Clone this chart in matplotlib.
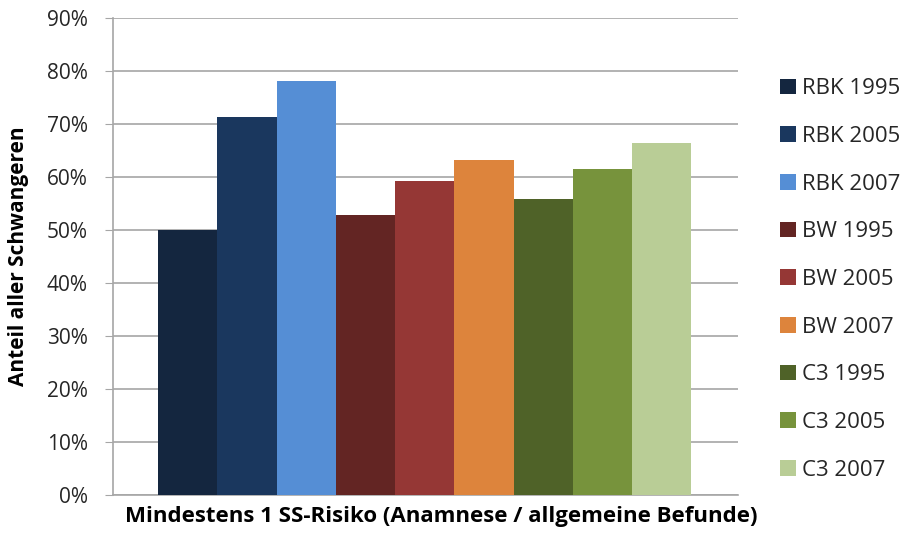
import matplotlib
matplotlib.use("Agg")
import matplotlib.pyplot as plt
from matplotlib.patches import Patch
from matplotlib.ticker import PercentFormatter

series = ["RBK 1995", "RBK 2005", "RBK 2007",
          "BW 1995", "BW 2005", "BW 2007",
          "C3 1995", "C3 2005", "C3 2007"]
values = [50.0, 71.3, 78.1, 52.8, 59.2, 63.3, 55.8, 61.5, 66.5]
colors = ["#14263F", "#1A375E", "#558ED5",
          "#632523", "#953735", "#DD843C",
          "#4F6228", "#77933C", "#B9CD96"]
category = "Mindestens 1 SS-Risiko (Anamnese / allgemeine Befunde)"

plt.rcParams["font.family"] = ["Open Sans", "DejaVu Sans"]

fig = plt.figure(figsize=(9.04, 5.34), dpi=100)
ax = fig.add_axes([0.125, 0.073, 0.691, 0.893])

for i, (v, c) in enumerate(zip(values, colors)):
    ax.bar(i, v, width=1.0, color=c, zorder=3)

ax.set_xlim(-1.26, 9.28)
ax.set_ylim(0, 90)
ax.set_yticks(range(0, 91, 10))
ax.yaxis.set_major_formatter(PercentFormatter(decimals=0))
ax.set_xticks([])
ax.grid(axis="y", color="#A6A6A6", linewidth=1.2, zorder=0)
for s in ["top", "right"]:
    ax.spines[s].set_visible(False)
for s in ["left", "bottom"]:
    ax.spines[s].set_color("#A6A6A6")
    ax.spines[s].set_linewidth(1.2)
ax.tick_params(axis="y", length=6, color="#A6A6A6", labelsize=15,
               labelcolor="#262626", pad=12)

ax.set_ylabel("Anteil aller Schwangeren", fontsize=15, fontweight="bold")
ax.yaxis.set_label_coords(-0.152, 0.5)
ax.yaxis.label.set_va("center")
ax.set_xlabel(category, fontsize=16, fontweight="bold")
ax.xaxis.set_label_coords(0.525, -0.023)
ax.xaxis.label.set_va("top")

handles = [Patch(facecolor=c, label=s) for s, c in zip(series, colors)]
ax.legend(handles=handles, loc="center left", bbox_to_anchor=(1.036, 0.452),
          frameon=False, fontsize=16, handlelength=0.7, handleheight=0.7,
          handletextpad=0.3, labelspacing=1.2, labelcolor="#262626")

fig.savefig("out.png", dpi=100)
